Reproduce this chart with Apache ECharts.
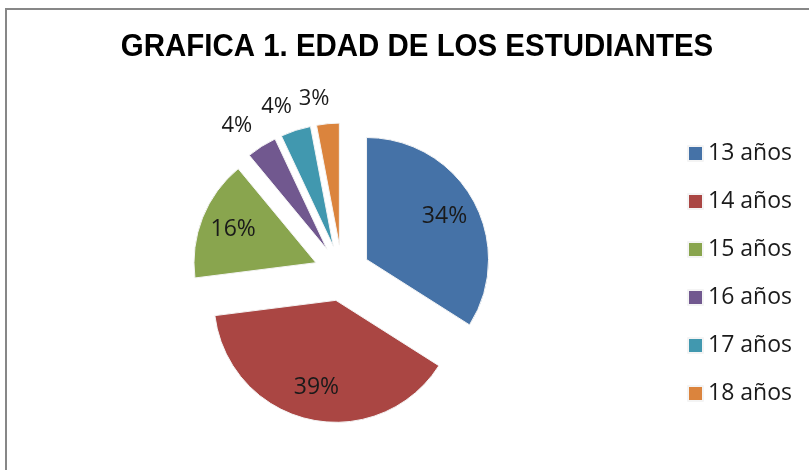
<!DOCTYPE html>
<html>
<head>
<meta charset="utf-8">
<script src="https://cdn.jsdelivr.net/npm/echarts@6/dist/echarts.min.js"></script>
<style>
  html, body { margin: 0; padding: 0; background: #fff; }
  #main { width: 809px; height: 470px; }
</style>
</head>
<body>
<div id="main"></div>
<script>
// datos de la grafica
var categorias = ['13 años', '14 años', '15 años', '16 años', '17 años', '18 años'];
var porcentajes = [34, 39, 16, 4, 4, 3];
var colores = ['#4572A7', '#AA4643', '#89A54E', '#71588F', '#4198AF', '#DB843D'];
var titulo = 'GRAFICA 1. EDAD DE LOS ESTUDIANTES';

var myChart = echarts.init(document.getElementById('main'));

var fuente = 'Open Sans';
var centro = [342, 273];
var radio = 122;
var separacion = 28;

// porciones grandes llevan la etiqueta dentro, las chicas afuera
function esChica(v) {
    return v < 10;
}

var datosPie = categorias.map(function (c, i) {
    return {
        name: c,
        value: porcentajes[i],
        selected: true,
        itemStyle: { color: colores[i] },
        label: { show: esChica(porcentajes[i]) }
    };
});

var datosEtiquetas = categorias.map(function (c, i) {
    return {
        name: c,
        value: porcentajes[i],
        selected: true,
        label: { show: !esChica(porcentajes[i]) }
    };
});

var option = {
    animation: false,
    graphic: [{
        type: 'rect',
        shape: { x: 6, y: 9, width: 900, height: 600 },
        style: { fill: 'none', stroke: '#878787', lineWidth: 2 },
        silent: true
    }, {
        // titulo angosto (como Arial Narrow)
        type: 'text',
        x: 417,
        y: 47,
        scaleX: 0.95,
        silent: true,
        style: {
            text: titulo,
            textAlign: 'center',
            textVerticalAlign: 'middle',
            fontFamily: '"Liberation Sans", Arial, sans-serif',
            fontWeight: 'bold',
            fontSize: 31,
            fill: '#000'
        }
    }],
    legend: {
        data: categorias,
        orient: 'vertical',
        left: 687,
        top: 142,
        padding: 0,
        itemWidth: 15,
        itemHeight: 15,
        itemGap: 25,
        icon: 'rect',
        selectedMode: false,
        textStyle: { fontFamily: fuente, fontSize: 23, color: '#1a1a1a' }
    },
    series: [{
        type: 'pie',
        center: centro,
        radius: [0, radio],
        startAngle: 90,
        selectedMode: 'multiple',
        selectedOffset: separacion,
        avoidLabelOverlap: false,
        silent: true,
        itemStyle: { borderColor: '#f4f4f4', borderWidth: 1 },
        select: { itemStyle: { borderColor: '#f4f4f4', borderWidth: 1 } },
        label: {
            position: 'outside',
            formatter: '{c}%',
            fontFamily: fuente,
            fontSize: 22,
            color: '#1a1a1a',
            distanceToLabelLine: -4
        },
        labelLine: { show: false, length: 25, length2: 0 },
        data: datosPie
    }, {
        // serie invisible solo para poner las etiquetas internas
        type: 'pie',
        center: centro,
        radius: [60, 112],
        startAngle: 90,
        selectedMode: 'multiple',
        selectedOffset: separacion,
        avoidLabelOverlap: false,
        silent: true,
        itemStyle: { color: 'rgba(0,0,0,0)' },
        select: { itemStyle: { color: 'rgba(0,0,0,0)' } },
        label: {
            position: 'inside',
            formatter: '{c}%',
            fontFamily: fuente,
            fontSize: 23,
            color: '#1a1a1a'
        },
        labelLine: { show: false },
        data: datosEtiquetas
    }]
};

myChart.setOption(option);
</script>
</body>
</html>
